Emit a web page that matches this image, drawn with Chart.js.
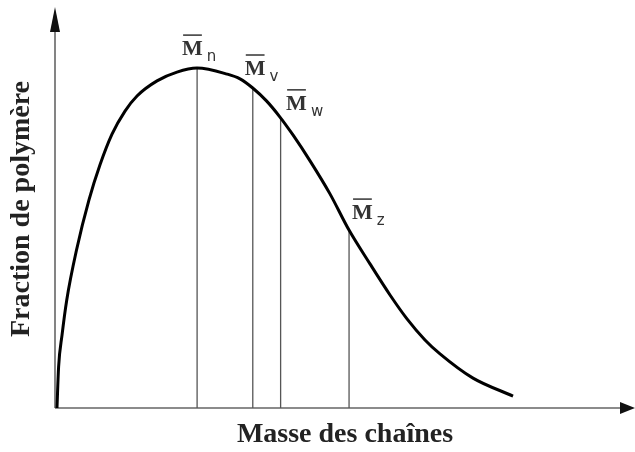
<!DOCTYPE html>
<html>
<head>
<meta charset="utf-8">
<script src="https://cdn.jsdelivr.net/npm/chart.js@4/dist/chart.umd.min.js"></script>
<style>
  html, body { margin: 0; padding: 0; background: #ffffff; }
  #wrap { width: 635px; height: 452px; }
</style>
</head>
<body>
<div id="wrap"><canvas id="c" width="635" height="452"></canvas></div>
<script>
// Distribution curve (mass of chains vs. polymer fraction), arbitrary units
const curveMass     = [0.34, 0.62, 1.21, 2.02, 3.71, 5.86, 7.76, 9.83, 12.07, 14.14, 17.59, 21.03, 24.48, 29.66, 31.90, 34.09, 36.50, 38.79, 41.03, 43.97, 47.41, 50.69, 54.31, 57.76, 60.69, 63.79, 66.38, 72.07, 78.97];
const curveFraction = [0,    10.3, 18.3, 27.1, 39.7, 52.3, 61.1, 68.8, 74.6,  78.4,  82.2,  84.4,  85.4,  83.9,  82.7,  80.4,  77.1,  73.1,  68.6,  62.1,  53.8,  44.7,  36.2,  28.4,  22.4,  17.1,  13.6,  7.5,   3.0];

// Average molar masses (vertical markers)
const markerNames = ['n', 'v', 'w', 'z'];
const markerMass  = [24.5, 34.1, 38.9, 50.7];
const markerTop   = [85.4, 80.4, 72.9, 44.7];

const xTitle = 'Masse des chaînes';
const yTitle = 'Fraction de polymère';

const curveData = curveMass.map((m, i) => ({ x: m, y: curveFraction[i] }));
const markerSets = markerMass.map((m, i) => ({
  label: 'M' + markerNames[i],
  data: [{ x: m, y: 0 }, { x: m, y: markerTop[i] }],
  borderColor: '#555555',
  borderWidth: 1.3,
  pointRadius: 0,
  tension: 0,
  fill: false
}));

// label offsets (pixels) relative to the top of each marker line
const labelOffsets = [[-15, -13], [-8, -13], [5.5, -8], [3, -11]];

const axesArrows = {
  id: 'axesArrows',
  beforeDatasetsDraw(chart) {
    const { ctx, chartArea: a } = chart;
    ctx.save();
    ctx.strokeStyle = '#666666';
    ctx.lineWidth = 1.6;
    ctx.beginPath();
    ctx.moveTo(a.left, a.bottom);
    ctx.lineTo(a.right - 14, a.bottom);
    ctx.moveTo(a.left, a.bottom);
    ctx.lineTo(a.left, a.top + 22);
    ctx.stroke();
    ctx.fillStyle = '#111111';
    ctx.beginPath();
    ctx.moveTo(a.right, a.bottom);
    ctx.lineTo(a.right - 15, a.bottom - 6);
    ctx.lineTo(a.right - 15, a.bottom + 6);
    ctx.closePath();
    ctx.fill();
    ctx.beginPath();
    ctx.moveTo(a.left, a.top - 3);
    ctx.lineTo(a.left - 5, a.top + 22);
    ctx.lineTo(a.left + 5, a.top + 22);
    ctx.closePath();
    ctx.fill();
    ctx.restore();
  }
};

const markerLabels = {
  id: 'markerLabels',
  afterDatasetsDraw(chart) {
    const { ctx, scales } = chart;
    ctx.save();
    markerNames.forEach((name, i) => {
      const px = scales.x.getPixelForValue(markerMass[i]);
      const py = scales.y.getPixelForValue(markerTop[i]);
      const lx = px + labelOffsets[i][0];
      const ly = py + labelOffsets[i][1];
      ctx.fillStyle = '#333333';
      ctx.textBaseline = 'alphabetic';
      ctx.textAlign = 'left';
      ctx.font = 'bold 22px "Liberation Serif", serif';
      ctx.fillText('M', lx, ly);
      const w = ctx.measureText('M').width;
      ctx.strokeStyle = '#333333';
      ctx.lineWidth = 1.5;
      ctx.beginPath();
      ctx.moveTo(lx + 1, ly - 20);
      ctx.lineTo(lx + w - 1, ly - 20);
      ctx.stroke();
      ctx.font = '15px "DejaVu Sans", sans-serif';
      ctx.fillText(name, lx + w + 4, ly + 6);
    });
    ctx.restore();
  }
};

new Chart(document.getElementById('c'), {
  type: 'line',
  data: {
    datasets: [{
      label: 'Distribution',
      data: curveData,
      borderColor: '#000000',
      borderWidth: 3,
      pointRadius: 0,
      cubicInterpolationMode: 'monotone',
      fill: false
    }].concat(markerSets)
  },
  options: {
    responsive: false,
    animation: false,
    devicePixelRatio: 1,
    layout: { padding: { top: 10, right: 0, bottom: 0, left: 0 } },
    plugins: { legend: { display: false }, tooltip: { enabled: false } },
    scales: {
      x: {
        type: 'linear', min: 0, max: 100,
        grid: { display: false }, border: { display: false },
        ticks: { display: false },
        title: {
          display: true, text: xTitle, color: '#222222',
          font: { family: '"Liberation Serif", serif', size: 28, weight: 'bold' },
          padding: { top: 0, bottom: 0 }
        },
        afterFit(s) { s.height = 44; }
      },
      y: {
        type: 'linear', min: 0, max: 100,
        grid: { display: false }, border: { display: false },
        ticks: { display: false },
        title: {
          display: true, text: yTitle, color: '#222222',
          font: { family: '"Liberation Serif", serif', size: 28, weight: 'bold' },
          padding: { top: 5, bottom: 0 }
        },
        afterFit(s) { s.width = 55; }
      }
    }
  },
  plugins: [axesArrows, markerLabels]
});
</script>
</body>
</html>
